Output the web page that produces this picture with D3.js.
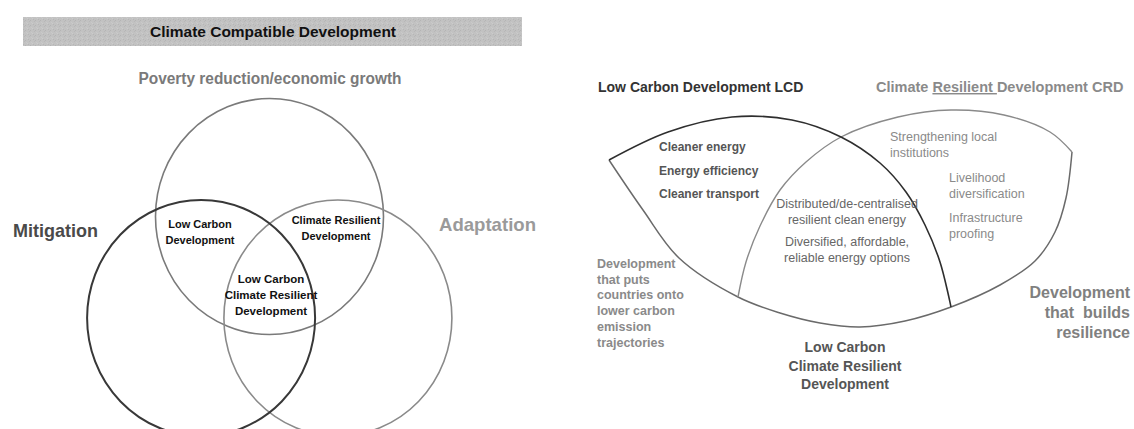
<!DOCTYPE html>
<html lang="en">
<head>
<meta charset="UTF-8" />
<title>Climate Compatible Development</title>
<script src="https://cdn.jsdelivr.net/npm/d3@7"></script>
<style>
  body { margin: 0; background: #fff; }
  text { font-family: "Liberation Sans", Arial, sans-serif; }
</style>
</head>
<body>
<div id="app"></div>
<script>
// ---- left panel: Venn of three sets
const titleText = "Climate Compatible Development";
const topLabel = "Poverty reduction/economic growth";
const sideLabels = ["Mitigation", "Adaptation"];
const vennSets = ["Poverty reduction", "Mitigation", "Adaptation"];
const overlapLabels = [
  ["Low Carbon", "Development"],
  ["Climate Resilient", "Development"],
  ["Low Carbon", "Climate Resilient", "Development"]
];

// ---- right panel: LCD / CRD lens
const headLcd = "Low Carbon Development LCD";
const headCrd = ["Climate ", "Resilient ", "Development CRD"];
const lcdItems = ["Cleaner energy", "Energy efficiency", "Cleaner transport"];
const crdItems = [["Strengthening local", "institutions"], ["Livelihood", "diversification"], ["Infrastructure", "proofing"]];
const bothItems = [["Distributed/de-centralised", "resilient clean energy"], ["Diversified, affordable,", "reliable energy options"]];
const lcdNote = ["Development", "that puts", "countries onto", "lower carbon", "emission", "trajectories"];
const crdNote = ["Development", "that  builds", "resilience"];
const bottomLabel = ["Low Carbon", "Climate Resilient", "Development"];

const W = 1134, H = 429;
const svg = d3.select("#app").append("svg")
  .attr("width", W).attr("height", H);

// texture for the title bar
const defs = svg.append("defs");
const pat = defs.append("pattern").attr("id", "grain")
  .attr("width", 5).attr("height", 5).attr("patternUnits", "userSpaceOnUse");
pat.append("rect").attr("width", 5).attr("height", 5).attr("fill", "#c2c2c2");
[[0, 0, "#b4b4b4"], [2, 3, "#cccccc"], [4, 1, "#b8b8b8"], [1, 2, "#c9c9c9"], [3, 4, "#b6b6b6"]]
  .forEach(p => pat.append("rect").attr("x", p[0]).attr("y", p[1])
    .attr("width", 1).attr("height", 1).attr("fill", p[2]));

svg.append("rect")
  .attr("x", 23).attr("y", 17).attr("width", 499).attr("height", 29)
  .attr("fill", "url(#grain)");

svg.append("text")
  .attr("x", 273).attr("y", 37)
  .attr("text-anchor", "middle")
  .attr("font-size", 15).attr("font-weight", "bold").attr("fill", "#111")
  .attr("textLength", 246).attr("lengthAdjust", "spacingAndGlyphs")
  .text(titleText);

svg.append("text")
  .attr("x", 270).attr("y", 84)
  .attr("text-anchor", "middle")
  .attr("font-size", 16).attr("font-weight", "bold").attr("fill", "#7a7a7a")
  .attr("textLength", 263).attr("lengthAdjust", "spacingAndGlyphs")
  .text(topLabel);

// Venn: unit circles placed in a unit frame, mapped by scales
const vx = d3.scaleLinear().domain([-1, 1]).range([269.5 - 114, 269.5 + 114]);
const vy = d3.scaleLinear().domain([-1, 1]).range([318 - 118, 318 + 118]);
const spread = 0.6, lift = 0.86;
const circles = vennSets.map((name, i) => ({
  name,
  cx: i === 0 ? 0 : (i === 1 ? -spread : spread),
  cy: i === 0 ? -lift : 0,
  stroke: ["#7a7a7a", "#383838", "#8a8a8a"][i],
  sw: [1.6, 2, 1.6][i]
}));

svg.selectAll("ellipse.set")
  .data([circles[0], circles[2], circles[1]])
  .enter().append("ellipse")
  .attr("class", "set")
  .attr("cx", d => vx(d.cx)).attr("cy", d => vy(d.cy))
  .attr("rx", vx(1) - vx(0)).attr("ry", vy(1) - vy(0))
  .attr("fill", "none")
  .attr("stroke", d => d.stroke).attr("stroke-width", d => d.sw);

// overlap labels
const overlapPos = [
  { x: 200, y: 228, fs: 11 },
  { x: 336, y: 224, fs: 11 },
  { x: 271, y: 283, fs: 11.5 }
];
overlapLabels.forEach((lines, i) => {
  const t = svg.append("text")
    .attr("text-anchor", "middle")
    .attr("font-size", overlapPos[i].fs).attr("font-weight", "bold").attr("fill", "#111");
  lines.forEach((l, j) => t.append("tspan")
    .attr("x", overlapPos[i].x).attr("y", overlapPos[i].y + j * 16).text(l));
});

svg.append("text")
  .attr("x", 13).attr("y", 237)
  .attr("font-size", 19).attr("font-weight", "bold").attr("fill", "#4a4a4a")
  .attr("textLength", 85).attr("lengthAdjust", "spacingAndGlyphs")
  .text(sideLabels[0]);

svg.append("text")
  .attr("x", 439).attr("y", 231)
  .attr("font-size", 19).attr("font-weight", "bold").attr("fill", "#9a9a9a")
  .attr("textLength", 97).attr("lengthAdjust", "spacingAndGlyphs")
  .text(sideLabels[1]);

// ---- right panel
const rp = svg.append("g");
const line = d3.line().curve(d3.curveCatmullRom.alpha(0.5));

const bottomArc = [[609,160],[643,210],[679,258],[738,297],[780,313],[820,323],[860,327],[905,321],[951,307],[1000,285],[1035,261],[1055,232],[1066,198],[1072,152]];
const crdArc = [[738,297],[746,262],[760,226],[780,190],[806,162],[841,137],[898,117],[951,110],[1004,115],[1050,132],[1072,152]];
const lcdArc = [[609,160],[668,132],[732,117],[792,120],[841,137],[880,163],[906,192],[925,225],[940,262],[951,307]];

rp.append("path").attr("d", line(bottomArc))
  .attr("fill", "none").attr("stroke", "#6a6a6a").attr("stroke-width", 1.5);
rp.append("path").attr("d", line(crdArc))
  .attr("fill", "none").attr("stroke", "#8a8a8a").attr("stroke-width", 1.4);
rp.append("path").attr("d", line(lcdArc))
  .attr("fill", "none").attr("stroke", "#2e2e2e").attr("stroke-width", 1.6);

rp.append("text")
  .attr("x", 598).attr("y", 92)
  .attr("font-size", 14).attr("font-weight", "bold").attr("fill", "#333")
  .text(headLcd);

const crdHead = rp.append("text")
  .attr("x", 876).attr("y", 92)
  .attr("font-size", 14.5).attr("font-weight", "bold").attr("fill", "#8a8a8a");
headCrd.forEach((s, i) => crdHead.append("tspan")
  .attr("text-decoration", i === 1 ? "underline" : null)
  .text(s));

lcdItems.forEach((s, i) => rp.append("text")
  .attr("x", 659).attr("y", 151 + i * 23.5)
  .attr("font-size", 12).attr("font-weight", "bold").attr("fill", "#555")
  .text(s));

const crdPos = [{ x: 890, y: 141 }, { x: 949, y: 182 }, { x: 949, y: 222 }];
crdItems.forEach((lines, i) => lines.forEach((s, j) => rp.append("text")
  .attr("x", crdPos[i].x).attr("y", crdPos[i].y + j * 15.5)
  .attr("font-size", 12.5).attr("fill", "#8a8a8a")
  .text(s)));

const bothPos = [208, 246];
bothItems.forEach((lines, i) => lines.forEach((s, j) => rp.append("text")
  .attr("x", 847).attr("y", bothPos[i] + j * 15.5)
  .attr("text-anchor", "middle")
  .attr("font-size", 12.5).attr("fill", "#666")
  .text(s)));

lcdNote.forEach((s, i) => rp.append("text")
  .attr("x", 597).attr("y", 268 + i * 15.7)
  .attr("font-size", 12.5).attr("font-weight", "bold").attr("fill", "#8a8a8a")
  .text(s));

crdNote.forEach((s, i) => rp.append("text")
  .attr("x", 1130).attr("y", 298 + i * 20)
  .attr("text-anchor", "end")
  .attr("font-size", 16).attr("font-weight", "bold").attr("fill", "#808080")
  .style("white-space", "pre")
  .text(s));

bottomLabel.forEach((s, i) => rp.append("text")
  .attr("x", 845).attr("y", 352 + i * 18.5)
  .attr("text-anchor", "middle")
  .attr("font-size", 14).attr("font-weight", "bold").attr("fill", "#555")
  .text(s));
</script>
</body>
</html>
